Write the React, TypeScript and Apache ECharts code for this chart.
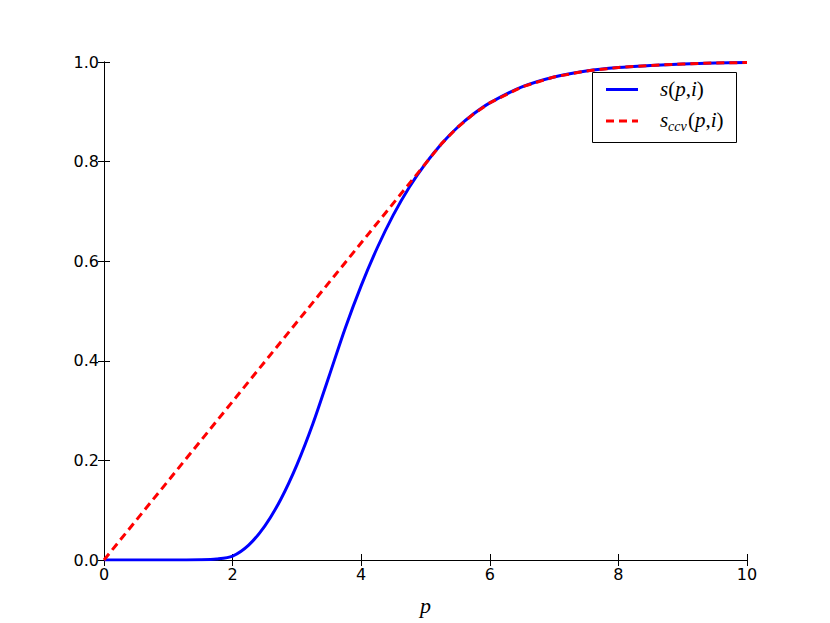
import React, { useEffect, useRef } from "react";
import * as echarts from "echarts";

// s(p,i)
const pValues = [0, 0.5, 1.0, 1.5, 1.75, 2.0, 2.25, 2.5, 2.75, 3.0, 3.25, 3.5, 3.75, 4.0, 4.25, 4.5, 4.75, 5.0, 5.25, 5.5, 5.75, 6.0, 6.5, 7.0, 7.5, 8.0, 8.5, 9.0, 9.5, 10.0];
const sValues = [0, 0, 0, 0.0005, 0.002, 0.008, 0.030, 0.068, 0.122, 0.191, 0.274, 0.369, 0.465, 0.551, 0.627, 0.693, 0.749, 0.796, 0.836, 0.869, 0.896, 0.918, 0.950, 0.970, 0.982, 0.989, 0.993, 0.996, 0.998, 0.999];

// s_ccv(p,i): straight segment from origin to the tangent point, then follows s
const ccvLineP = [0, 5.0];
const ccvLineS = [0, 0.796];
const tangentP = 5.0;

export default function App() {
  const ref = useRef<HTMLDivElement>(null);
  useEffect(() => {
    if (!ref.current) return;
    const chart = echarts.init(ref.current, null, { renderer: "svg" });
    const sData = pValues.map((p, i) => [p, sValues[i]]);
    const ccvData = ccvLineP
      .map((p, i) => [p, ccvLineS[i]])
      .concat(pValues.map((p, i) => [p, sValues[i]]).filter((d) => d[0] > tangentP));

    const tickFont = { fontFamily: "DejaVu Sans", fontSize: 16, color: "#000" };
    const axisLine = { show: true, lineStyle: { color: "#000", width: 1 } };
    const axisTick = { show: true, inside: true, length: 6, lineStyle: { color: "#000", width: 1 } };

    const mathFont = "Liberation Serif";
    chart.setOption({
      animation: false,
      backgroundColor: "#fff",
      grid: { left: 104, right: 83, top: 62, bottom: 63, containLabel: false },
      xAxis: [
        {
          type: "value",
          min: 0,
          max: 10,
          interval: 2,
          position: "bottom",
          axisLine,
          axisTick,
          splitLine: { show: false },
          axisLabel: { ...tickFont, margin: 6, formatter: (v: number) => String(v) },
          name: "p",
          nameLocation: "middle",
          nameGap: 34,
          nameTextStyle: { fontFamily: mathFont, fontStyle: "italic", fontSize: 22, color: "#000" },
        },
        {
          type: "value",
          min: 0,
          max: 10,
          interval: 2,
          position: "top",
          axisLine,
          axisTick,
          splitLine: { show: false },
          axisLabel: { show: false },
        },
      ],
      yAxis: [
        {
          type: "value",
          min: 0,
          max: 1,
          interval: 0.2,
          position: "left",
          axisLine,
          axisTick,
          splitLine: { show: false },
          axisLabel: { ...tickFont, margin: 5, formatter: (v: number) => v.toFixed(1) },
        },
        {
          type: "value",
          min: 0,
          max: 1,
          interval: 0.2,
          position: "right",
          axisLine,
          axisTick,
          splitLine: { show: false },
          axisLabel: { show: false },
        },
      ],
      series: [
        {
          name: "s(p,i)",
          type: "line",
          data: sData,
          smooth: 0.3,
          showSymbol: false,
          symbol: "none",
          lineStyle: { color: "#0000ff", width: 3 },
          z: 2,
        },
        {
          name: "s_ccv(p,i)",
          type: "line",
          data: ccvData,
          smooth: false,
          showSymbol: false,
          symbol: "none",
          lineStyle: { color: "#ff0000", width: 3, type: [8, 5] },
          z: 3,
        },
      ],
      graphic: [
        {
          type: "rect",
          shape: { x: 592.5, y: 72.5, width: 144, height: 70 },
          style: { fill: "#fff", stroke: "#000", lineWidth: 1 },
          z: 10,
        },
        {
          type: "line",
          shape: { x1: 606, y1: 89.5, x2: 638, y2: 89.5 },
          style: { stroke: "#0000ff", lineWidth: 3 },
          z: 11,
        },
        {
          type: "line",
          shape: { x1: 606, y1: 121, x2: 638, y2: 121 },
          style: { stroke: "#ff0000", lineWidth: 3, lineDash: [8, 5] },
          z: 11,
        },
        {
          type: "text",
          x: 660,
          y: 89,
          style: {
            text: "{i|s}{r|(}{i|p}{r|,}{i|i}{r|)}",
            verticalAlign: "middle",
            rich: {
              i: { fontFamily: mathFont, fontStyle: "italic", fontSize: 21, fill: "#000" },
              r: { fontFamily: mathFont, fontSize: 21, fill: "#000" },
            },
          },
          z: 11,
        },
        {
          type: "text",
          x: 660,
          y: 120,
          style: { text: "s", fontFamily: mathFont, fontStyle: "italic", fontSize: 21, fill: "#000", verticalAlign: "middle" },
          z: 11,
        },
        {
          type: "text",
          x: 668,
          y: 126,
          style: { text: "ccv", fontFamily: mathFont, fontStyle: "italic", fontSize: 14, fill: "#000", verticalAlign: "middle" },
          z: 11,
        },
        {
          type: "text",
          x: 688,
          y: 120,
          style: {
            text: "{r|(}{i|p}{r|,}{i|i}{r|)}",
            verticalAlign: "middle",
            rich: {
              i: { fontFamily: mathFont, fontStyle: "italic", fontSize: 21, fill: "#000" },
              r: { fontFamily: mathFont, fontSize: 21, fill: "#000" },
            },
          },
          z: 11,
        },
      ],
    });
    return () => chart.dispose();
  }, []);
  return (
    <div
      ref={ref}
      style={{ position: "fixed", left: 0, top: 0, width: 830, height: 623, background: "#fff" }}
    />
  );
}
